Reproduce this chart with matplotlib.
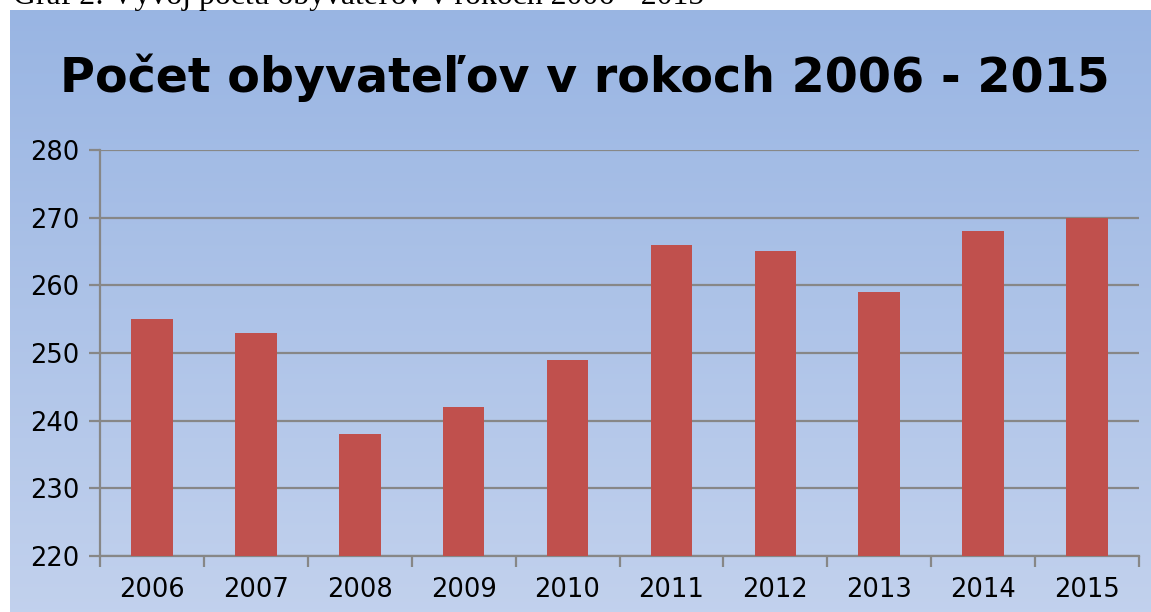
import matplotlib.pyplot as plt
import numpy as np

years = ['2006', '2007', '2008', '2009', '2010', '2011', '2012', '2013', '2014', '2015']
population = [255, 253, 238, 242, 249, 266, 265, 259, 268, 270]

title = 'Počet obyvateľov v rokoch 2006 - 2015'
caption = 'Graf 2: Vývoj počtu obyvateľov v rokoch 2006 - 2015'

fig = plt.figure(figsize=(11.51, 6.12), dpi=100)
W, H = 1151, 612

# gradient panel behind the chart
bg = fig.add_axes([10 / W, 0, 1 - 10 / W, (H - 10) / H])
top = np.array([0.600, 0.710, 0.890])
bottom = np.array([0.760, 0.820, 0.930])
t = np.linspace(0, 1, 256)[:, None]
grad = top + (bottom - top) * t
bg.imshow(grad[:, None, :], aspect='auto', extent=[0, 1, 0, 1])
bg.set_axis_off()

# caption, cut off at the top of the page like in the scan
cap = fig.text(13 / W, 1 - 4 / H, caption, fontsize=21, family='Liberation Serif',
               ha='left', va='baseline')
r = fig.canvas.get_renderer()
w = cap.get_window_extent(r).width
cap.set_fontsize(21 * 690 / w)

ax = fig.add_axes([100 / W, (H - 556) / H, (1139 - 100) / W, (556 - 150) / H])
ax.patch.set_alpha(0)
x = np.arange(len(years))
ax.bar(x, population, width=0.4, color='#C0504D', zorder=3)

ax.set_ylim(220, 280)
ax.set_xlim(-0.5, len(years) - 0.5)
ax.set_yticks(range(220, 281, 10))
ax.yaxis.grid(True, color='#878787', linewidth=1.6, zorder=0)
ax.set_axisbelow(True)

ax.set_xticks(np.arange(-0.5, len(years), 1.0))
ax.set_xticklabels([])
ax.set_xticks(x, minor=True)
ax.set_xticklabels(years, minor=True)
ax.tick_params(axis='x', which='major', length=8, width=1.6, color='#878787')
ax.tick_params(axis='x', which='minor', length=0, pad=15, labelsize=18.5)
ax.tick_params(axis='y', length=8, width=1.6, color='#878787', pad=7, labelsize=18.5)

for s in ['top', 'right']:
    ax.spines[s].set_visible(False)
for s in ['left', 'bottom']:
    ax.spines[s].set_color('#878787')
    ax.spines[s].set_linewidth(1.6)

fig.text(585 / W, 1 - 78 / H, title, fontsize=34.3, fontweight='bold',
         ha='center', va='center')

fig.savefig('out.png', dpi=100)
